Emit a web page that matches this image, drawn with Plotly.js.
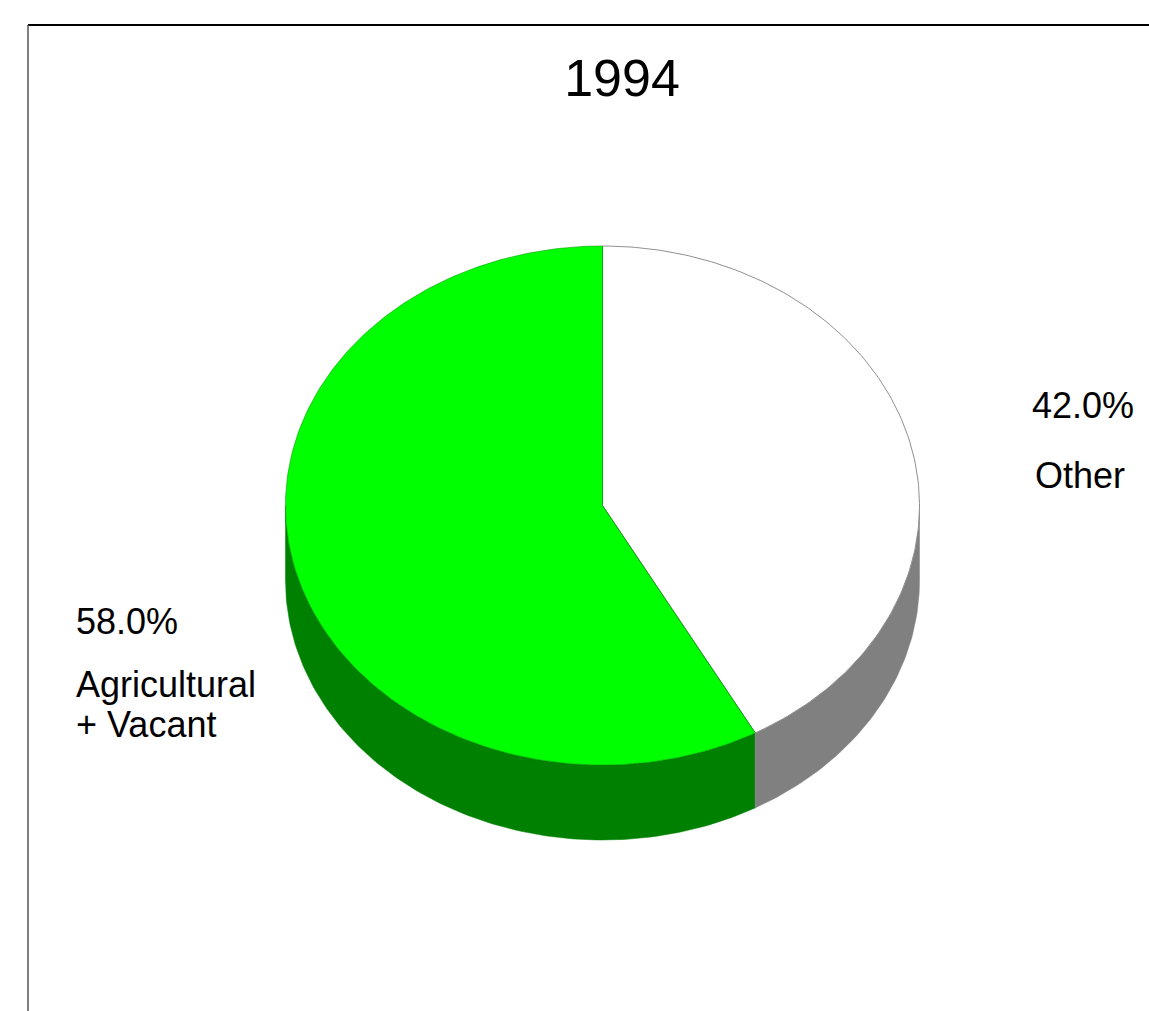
<!DOCTYPE html>
<html>
<head>
<meta charset="utf-8">
<script src="https://cdn.plot.ly/plotly-3.0.1.min.js"></script>
<style>html,body{margin:0;padding:0;background:#fff;}#chart{width:1149px;height:1011px;}</style>
</head>
<body>
<div id="chart"></div>
<script>
// ---- data ----
const title = "1994";
const categories = ["Agricultural<br>+ Vacant", "Other"];
const values = [58.0, 42.0];
const topColors = ["#00ff00", "#ffffff"];
const sideColors = ["#008000", "#808080"];

// ---- geometry (pixel-like axis space, y downward) ----
const W = 1149, H = 1011;
const cx = 602.5, cy = 505.5, rx = 317, ry = 259.5, depth = 75;
const total = values.reduce((a, b) => a + b, 0);

// angle measured clockwise from 12 o'clock, degrees
function pt(a, dy) {
  const r = a * Math.PI / 180;
  return [cx + rx * Math.sin(r), cy - ry * Math.cos(r) + (dy || 0)];
}
function arc(a0, a1, dy) {
  const n = Math.max(2, Math.ceil(Math.abs(a1 - a0) / 1));
  const xs = [], ys = [];
  for (let i = 0; i <= n; i++) {
    const p = pt(a0 + (a1 - a0) * i / n, dy);
    xs.push(p[0]); ys.push(p[1]);
  }
  return [xs, ys];
}

// slices go counter-clockwise from the top, first slice first
const spans = [];
let acc = 0;
values.forEach((v, i) => {
  const sweep = v / total * 360;
  spans.push([360 - acc - sweep, 360 - acc]);
  acc += sweep;
});

const traces = [];
// side walls (visible front half: clockwise angles 90..270)
spans.forEach((s, i) => {
  let lo = Math.max(s[0], 90), hi = Math.min(s[1], 270);
  if (hi <= lo) return;
  const top = arc(lo, hi, 0);
  const bot = arc(hi, lo, depth);
  traces.push({
    type: "scatter", mode: "lines", fill: "toself",
    x: top[0].concat(bot[0]).concat([top[0][0]]),
    y: top[1].concat(bot[1]).concat([top[1][0]]),
    fillcolor: sideColors[i], line: {color: sideColors[i], width: 0.5},
    hoverinfo: "skip", showlegend: false
  });
});
// top faces
spans.forEach((s, i) => {
  const a = arc(s[0], s[1], 0);
  traces.push({
    type: "scatter", mode: "lines", fill: "toself",
    x: [cx].concat(a[0]).concat([cx]),
    y: [cy].concat(a[1]).concat([cy]),
    fillcolor: topColors[i],
    line: {color: i === 0 ? "#00a000" : "#909090", width: i === 0 ? 0.6 : 1},
    hoverinfo: "skip", showlegend: false
  });
});
(function () {
  const s = spans[0];
  const p0 = pt(s[0]), p1 = pt(s[1]);
  traces.push({
    type: "scatter", mode: "lines",
    x: [p0[0], cx, p1[0]], y: [p0[1], cy, p1[1]],
    line: {color: "#00b000", width: 1}, hoverinfo: "skip", showlegend: false
  });
})();

const fontFam = "Arial, 'Liberation Sans', sans-serif";
const pctText = values.map(v => v.toFixed(1) + "%");
const agLines = categories[0].split("<br>");
const annotations = [
  {x: 74, y: 621, text: pctText[0], xanchor: "left", yanchor: "middle"},
  {x: 74, y: 684, text: agLines[0], xanchor: "left", yanchor: "middle"},
  {x: 74, y: 724, text: agLines[1], xanchor: "left", yanchor: "middle"},
  {x: 1030, y: 405, text: pctText[1], xanchor: "left", yanchor: "middle"},
  {x: 1033, y: 475, text: categories[1], xanchor: "left", yanchor: "middle"}
].map(a => Object.assign({xref: "x", yref: "y", showarrow: false, font: {size: 36, color: "#000"}}, a));

const layout = {
  width: W, height: H,
  margin: {l: 0, r: 0, t: 0, b: 0},
  paper_bgcolor: "#fff", plot_bgcolor: "#fff",
  font: {family: fontFam, color: "#000"},
  title: {text: title, x: 622 / W, xanchor: "center", y: 1 - 78 / H, yanchor: "middle", font: {size: 52, family: fontFam, color: "#000"}},
  xaxis: {range: [0, W], visible: false, fixedrange: true},
  yaxis: {range: [H, 0], visible: false, fixedrange: true},
  showlegend: false,
  annotations: annotations,
  shapes: [
    {type: "line", xref: "x", yref: "y", x0: 28, y0: 25, x1: W + 5, y1: 25, line: {color: "#000", width: 2}},
    {type: "line", xref: "x", yref: "y", x0: 28, y0: 25, x1: 28, y1: H + 5, line: {color: "#555", width: 1.5}}
  ]
};

Plotly.newPlot("chart", traces, layout, {displayModeBar: false, staticPlot: true});
</script>
</body>
</html>
